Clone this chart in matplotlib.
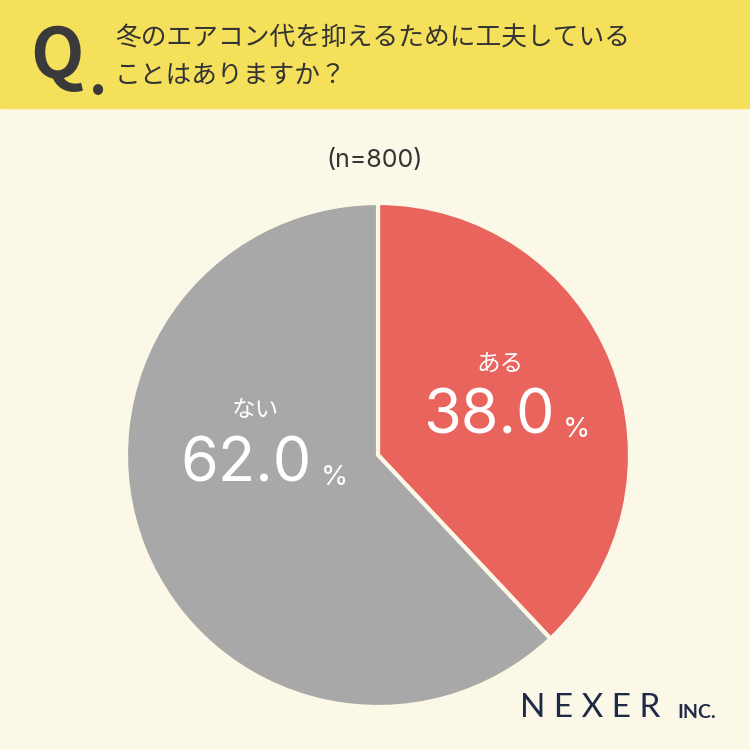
import matplotlib
matplotlib.use("Agg")
import matplotlib.pyplot as plt
from matplotlib.patches import Rectangle

plt.rcParams['font.family'] = ['Noto Sans CJK JP', 'DejaVu Sans']

labels = ["ある", "ない"]
values = [38.0, 62.0]
colors = ["#E8645C", "#A8A8A8"]
title_lines = ["冬のエアコン代を抑えるために工夫している", "ことはありますか？"]
n_text = "(n=800)"

fig = plt.figure(figsize=(7.5, 7.5), dpi=100)
fig.patch.set_facecolor("#FCF8E8")
bg = fig.add_axes([0, 0, 1, 1])
bg.set_xlim(0, 750); bg.set_ylim(750, 0); bg.axis("off")
bg.add_patch(Rectangle((0, 0), 750, 108, color="#F5E05C"))

ax = fig.add_axes([(378-252)/750, 1-(455+252)/750, 504/750, 504/750])
ax.pie(values, colors=colors, startangle=90, counterclock=False,
       wedgeprops=dict(edgecolor="#FCF8E8", linewidth=3))
ax.set_xlim(-1.0, 1.0); ax.set_ylim(-1.0, 1.0)
ax.set_aspect("equal")

num = ['Inter', 'DejaVu Sans']
tx = fig.add_axes([0, 0, 1, 1])
tx.set_xlim(0, 750); tx.set_ylim(750, 0); tx.axis("off")
tx.text(30, 58, "Q", fontsize=50, fontweight="bold", color="#3A3A3A", va="center", ha="left")
tx.text(89, 78, ".", fontsize=40, fontweight="bold", color="#3A3A3A", va="center", ha="left")
tx.text(115, 38, title_lines[0], fontsize=18.5, color="#333333", va="center")
tx.text(115, 76, title_lines[1], fontsize=18.5, color="#333333", va="center")
tx.text(375, 160, n_text, fontsize=18, color="#333333", ha="center", va="center", family=num)
tx.text(590, 708, "N E X E R", fontsize=24, color="#1E2A48", ha="center", va="center", family=['Lato'])
tx.text(697, 712, "INC.", fontsize=14, color="#1E2A48", ha="center", va="center", fontweight="bold", family=['Lato'])

tx.text(500, 365, labels[0], fontsize=17, color="white", ha="center", va="center")
tx.text(489, 418, "38.0", fontsize=44, color="white", ha="center", va="center", family=num)
tx.text(577, 430, "%", fontsize=20, color="white", ha="center", va="center", family=num)
tx.text(255, 410, labels[1], fontsize=17, color="white", ha="center", va="center")
tx.text(246, 466, "62.0", fontsize=44, color="white", ha="center", va="center", family=num)
tx.text(334, 478, "%", fontsize=20, color="white", ha="center", va="center", family=num)

fig.savefig("out.png", dpi=100, facecolor=fig.get_facecolor())
